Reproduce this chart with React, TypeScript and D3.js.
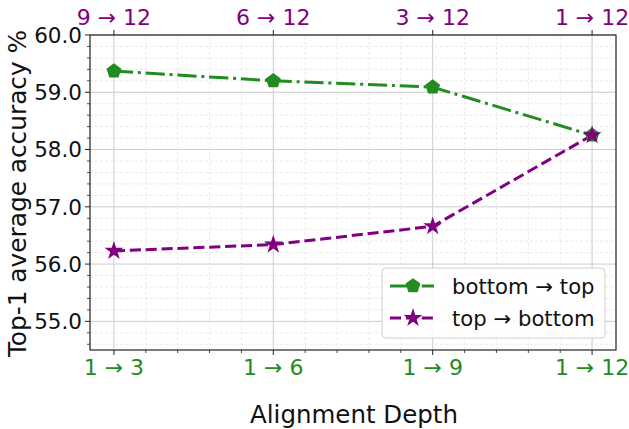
import React from "react";
import * as d3 from "d3";

const bottomLabels = ["1 → 3", "1 → 6", "1 → 9", "1 → 12"];
const topLabels = ["9 → 12", "6 → 12", "3 → 12", "1 → 12"];
const bottomToTop = [59.37, 59.2, 59.09, 58.25];
const topToBottom = [56.23, 56.34, 56.66, 58.25];
const yTicks = [55, 56, 57, 58, 59, 60];

const GREEN = "#228B22";
const PURPLE = "#800080";
const FONT = "DejaVu Sans, sans-serif";

const width = 629;
const height = 429;
const margin = { left: 90, right: 13, top: 35, bottom: 79 };

function pentagonPath(r: number) {
  const pts: [number, number][] = d3.range(5).map((i) => {
    const a = -Math.PI / 2 + (i * 2 * Math.PI) / 5;
    return [r * Math.cos(a), r * Math.sin(a)];
  });
  return d3.line()(pts) + "Z";
}

export default function App() {
  const x = d3
    .scaleLinear()
    .domain([-0.15, 3.15])
    .range([margin.left, width - margin.right]);
  const y = d3
    .scaleLinear()
    .domain([54.5, 60.0])
    .range([height - margin.bottom, margin.top]);

  const idx = d3.range(bottomLabels.length);
  const xMinor = d3.range(-0.0, 3.15, 0.2).filter((v) => Math.abs(v - Math.round(v)) > 1e-6);
  const yMinor = d3.range(54.6, 60.0, 0.2).filter((v) => Math.abs(v - Math.round(v)) > 1e-6);

  const line = d3
    .line<number>()
    .x((_, i) => x(i))
    .y((d) => y(d));

  const starPath = d3.symbol(d3.symbolStar, 110)()!;
  const pent = pentagonPath(7.8);

  const [x0, x1] = x.range();
  const [yBot, yTop] = y.range();

  return (
    <svg width={width} height={height} style={{ display: "block", position: "absolute", left: 0, top: 0 }}>
      <rect width={width} height={height} fill="white" />
      {/* minor grid */}
      {xMinor.map((v) => (
        <line key={"xm" + v} x1={x(v)} x2={x(v)} y1={yBot} y2={yTop} stroke="#e4e4e4" strokeWidth={0.8} strokeDasharray="3,2" />
      ))}
      {yMinor.map((v) => (
        <line key={"ym" + v} x1={x0} x2={x1} y1={y(v)} y2={y(v)} stroke="#e4e4e4" strokeWidth={0.8} strokeDasharray="3,2" />
      ))}
      {/* major grid */}
      {idx.map((i) => (
        <line key={"xg" + i} x1={x(i)} x2={x(i)} y1={yBot} y2={yTop} stroke="#cccccc" strokeWidth={1} />
      ))}
      {yTicks.map((v) => (
        <line key={"yg" + v} x1={x0} x2={x1} y1={y(v)} y2={y(v)} stroke="#cccccc" strokeWidth={1} />
      ))}

      {/* series */}
      <path d={line(bottomToTop)!} fill="none" stroke={GREEN} strokeWidth={3} strokeDasharray="19.2,4.8,3,4.8" />
      <path d={line(topToBottom)!} fill="none" stroke={PURPLE} strokeWidth={3} strokeDasharray="11.1,4.8" />
      {bottomToTop.map((d, i) => (
        <path key={"g" + i} d={pent} transform={`translate(${x(i)},${y(d)})`} fill={GREEN} />
      ))}
      {topToBottom.map((d, i) => (
        <path key={"p" + i} d={starPath} transform={`translate(${x(i)},${y(d)})`} fill={PURPLE} />
      ))}

      {/* spines */}
      <rect x={x0} y={yTop} width={x1 - x0} height={yBot - yTop} fill="none" stroke="#222" strokeWidth={1.2} />

      {/* y ticks */}
      {yMinor.map((v) => (
        <line key={"ymt" + v} x1={x0 - 3} x2={x0} y1={y(v)} y2={y(v)} stroke="#222" strokeWidth={0.8} />
      ))}
      {yTicks.map((v) => (
        <g key={"yt" + v}>
          <line x1={x0 - 5} x2={x0} y1={y(v)} y2={y(v)} stroke="#222" strokeWidth={1} />
          <text x={x0 - 8} y={y(v)} dy="0.36em" textAnchor="end" fontFamily={FONT} fontSize={21.5} fill="#111">
            {v.toFixed(1)}
          </text>
        </g>
      ))}

      {/* bottom ticks */}
      {xMinor.map((v) => (
        <line key={"xmt" + v} x1={x(v)} x2={x(v)} y1={yBot} y2={yBot + 3} stroke="#222" strokeWidth={0.8} />
      ))}
      {idx.map((i) => (
        <g key={"xb" + i}>
          <line x1={x(i)} x2={x(i)} y1={yBot} y2={yBot + 5} stroke="#222" strokeWidth={1} />
          <text x={x(i)} y={yBot + 25} textAnchor="middle" fontFamily={FONT} fontSize={22} fill={GREEN}>
            {bottomLabels[i]}
          </text>
        </g>
      ))}

      {/* top ticks */}
      {idx.map((i) => (
        <g key={"xt" + i}>
          <line x1={x(i)} x2={x(i)} y1={yTop} y2={yTop - 5} stroke="#222" strokeWidth={1} />
          <text x={x(i)} y={yTop - 10} textAnchor="middle" fontFamily={FONT} fontSize={22} fill={PURPLE}>
            {topLabels[i]}
          </text>
        </g>
      ))}

      {/* axis labels */}
      <text x={354} y={423} textAnchor="middle" fontFamily={FONT} fontSize={24.5} fill="#111">
        Alignment Depth
      </text>
      <text
        transform={`translate(26,193.5) rotate(-90)`}
        textAnchor="middle"
        fontFamily={FONT}
        fontSize={24.8}
        fill="#111"
      >
        Top-1 average accuracy %
      </text>

      {/* legend */}
      <g transform="translate(382,268)">
        <rect width={223} height={70} rx={4} fill="white" fillOpacity={0.85} stroke="#d0d0d0" />
        <line x1={8} x2={52} y1={18} y2={18} stroke={GREEN} strokeWidth={3} strokeDasharray="19.2,4.8,3,4.8" />
        <path d={pent} transform="translate(31,18)" fill={GREEN} />
        <text x={70} y={18} dy="0.36em" fontFamily={FONT} fontSize={21.2} fill="#111">
          bottom → top
        </text>
        <line x1={8} x2={52} y1={50} y2={50} stroke={PURPLE} strokeWidth={3} strokeDasharray="11.1,4.8" />
        <path d={starPath} transform="translate(31,50)" fill={PURPLE} />
        <text x={70} y={50} dy="0.36em" fontFamily={FONT} fontSize={21.2} fill="#111">
          top → bottom
        </text>
      </g>
    </svg>
  );
}
